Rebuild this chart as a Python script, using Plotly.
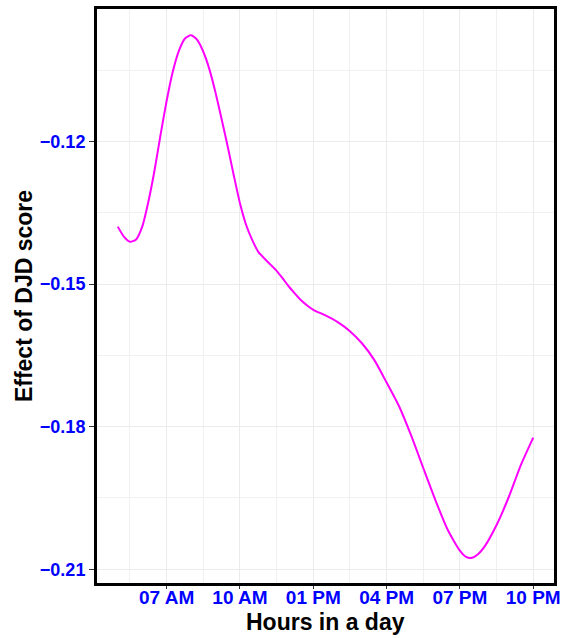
import plotly.graph_objects as go

hours = [5.0, 5.25, 5.5, 5.75, 6.0, 6.25, 6.5, 6.75, 7.0, 7.25, 7.5, 7.75, 8.0, 8.25, 8.5, 8.75,
         9.0, 9.25, 9.5, 9.75, 10.0, 10.25, 10.5, 10.75, 11.0, 11.25, 11.5, 11.75, 12.0, 12.25,
         12.5, 12.75, 13.0, 13.5, 14.0, 14.5, 15.0, 15.5, 16.0, 16.5, 17.0, 17.5, 18.0, 18.5,
         19.0, 19.25, 19.5, 19.75, 20.0, 20.5, 21.0, 21.5, 22.0]
effect = [-0.1379, -0.1400, -0.1411, -0.1406, -0.1379, -0.1327, -0.1262, -0.1186, -0.1114,
          -0.1053, -0.1009, -0.0983, -0.0976, -0.0986, -0.1011, -0.1048, -0.1097, -0.1153,
          -0.1211, -0.1272, -0.1330, -0.1375, -0.1407, -0.1432, -0.1446, -0.1459, -0.1472,
          -0.1488, -0.1505, -0.1520, -0.1534, -0.1545, -0.1554, -0.1566, -0.1580, -0.1599,
          -0.1625, -0.1660, -0.1707, -0.1756, -0.1818, -0.1887, -0.1955, -0.2017, -0.2061,
          -0.2074, -0.2076, -0.2068, -0.2053, -0.2007, -0.1948, -0.1880, -0.1823]

x_tickvals = [7, 10, 13, 16, 19, 22]
x_ticktext = ["07 AM", "10 AM", "01 PM", "04 PM", "07 PM", "10 PM"]
y_tickvals = [-0.12, -0.15, -0.18, -0.21]
y_ticktext = ["\u22120.12", "\u22120.15", "\u22120.18", "\u22120.21"]
x_title = "Hours in a day"
y_title = "Effect of DJD score"

FONT = "Liberation Sans, Arial, sans-serif"

fig = go.Figure()
fig.add_trace(go.Scatter(x=hours, y=effect, mode="lines",
                         line=dict(color="#FF00FF", width=2, shape="spline", smoothing=0.6),
                         showlegend=False, hoverinfo="skip"))

fig.update_layout(
    width=567, height=638,
    margin=dict(l=97, r=10, t=6, b=55),
    paper_bgcolor="white", plot_bgcolor="white",
    font=dict(family=FONT),
)
fig.update_xaxes(
    range=[4.15, 22.85],
    tickmode="array", tickvals=x_tickvals, ticktext=x_ticktext,
    tickfont=dict(family=FONT, size=19, color="#0000FF", weight="bold"),
    ticks="outside", ticklen=3, tickcolor="#333333", tickwidth=1,
    ticklabelstandoff=-8,
    showgrid=True, gridcolor="#EBEBEB", gridwidth=1.2,
    minor=dict(showgrid=True, gridcolor="#F0F0F0", gridwidth=1, tick0=5.5, dtick=3, ticks=""),
    showline=True, linecolor="black", linewidth=3, mirror=True,
    zeroline=False,
)
fig.update_yaxes(
    range=[-0.2129, -0.0921],
    tickmode="array", tickvals=y_tickvals, ticktext=y_ticktext,
    tickfont=dict(family=FONT, size=18, color="#0000FF", weight="bold"),
    ticks="outside", ticklen=5, tickcolor="#333333", tickwidth=1,
    showgrid=True, gridcolor="#EBEBEB", gridwidth=1.2,
    minor=dict(showgrid=True, gridcolor="#F0F0F0", gridwidth=1, tick0=-0.105, dtick=0.03, ticks=""),
    showline=True, linecolor="black", linewidth=3, mirror=True,
    zeroline=False,
    title=dict(text=y_title, font=dict(family=FONT, size=23, color="black", weight="bold"),
               standoff=1),
)
fig.add_annotation(text=x_title, xref="paper", yref="paper", x=0.5, y=-0.068,
                   xanchor="center", yanchor="middle", showarrow=False,
                   font=dict(family=FONT, size=23, color="black", weight="bold"))

fig.write_html("out.html", config={"displayModeBar": False},
               post_script="document.body.style.margin='0';document.body.style.overflow='hidden';")
